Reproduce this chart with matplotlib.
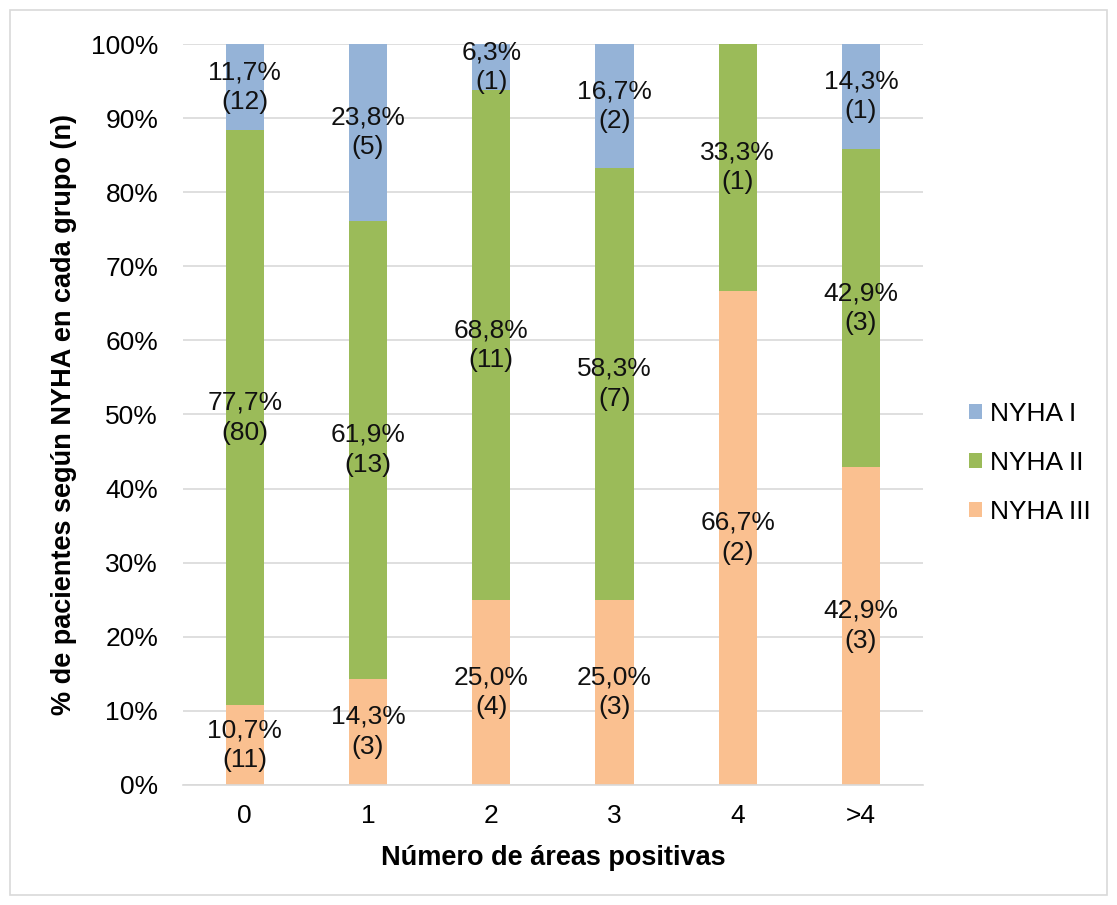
import matplotlib.pyplot as plt
import matplotlib.patches as mpatches
import numpy as np

plt.rcParams['font.family'] = ['Liberation Sans', 'DejaVu Sans']

categorias = ['0', '1', '2', '3', '4', '>4']
series = ['NYHA I', 'NYHA II', 'NYHA III']
pct_nyha1 = [11.7, 23.8, 6.3, 16.7, 0.0, 14.3]
pct_nyha2 = [77.7, 61.9, 68.8, 58.3, 33.3, 42.9]
pct_nyha3 = [10.7, 14.3, 25.0, 25.0, 66.7, 42.9]
n_nyha1 = [12, 5, 1, 2, 0, 1]
n_nyha2 = [80, 13, 11, 7, 1, 3]
n_nyha3 = [11, 3, 4, 3, 2, 3]
colores = ['#95B3D7', '#9BBB59', '#FAC090']

fig = plt.figure(figsize=(11.17, 9.05), dpi=100)
ax = fig.add_axes([0.164, 0.133, 0.662, 0.818])

# Borde del grafico
fig.patches.append(mpatches.Rectangle((0.009, 0.011), 0.982, 0.978, transform=fig.transFigure,
                                      fill=False, edgecolor='#d9d9d9', lw=1.2))

x = np.arange(len(categorias))
ancho = 0.31

# Apilar de abajo hacia arriba: III, II, I
capas = [(pct_nyha3, n_nyha3, colores[2], series[2]),
         (pct_nyha2, n_nyha2, colores[1], series[1]),
         (pct_nyha1, n_nyha1, colores[0], series[0])]
base = np.zeros(len(categorias))
handles = {}
for pct, n, color, nombre in capas:
    pct = np.array(pct)
    b = ax.bar(x, pct, ancho, bottom=base, color=color, label=nombre, zorder=2)
    handles[nombre] = b
    for i in range(len(x)):
        if n[i] > 0:
            etiqueta = f"{pct[i]:.1f}%".replace('.', ',') + f"\n({n[i]})"
            ax.text(x[i], base[i] + pct[i] / 2, etiqueta, ha='center', va='center',
                    fontsize=19, color='#111111', linespacing=1.3, zorder=3)
    base = base + pct

ax.set_xlim(-0.5, len(categorias) - 0.5)
ax.set_ylim(0, 100)
ax.set_yticks(np.arange(0, 101, 10))
ax.set_yticklabels([f"{v}%" for v in range(0, 101, 10)], fontsize=19)
ax.set_xticks(x)
ax.set_xticklabels(categorias, fontsize=19)
ax.tick_params(axis='y', length=0, pad=18)
ax.tick_params(axis='x', length=0, pad=14)
ax.grid(axis='y', color='#d9d9d9', lw=1.2, zorder=0)
ax.set_axisbelow(True)
for s in ['top', 'right', 'left']:
    ax.spines[s].set_visible(False)
ax.spines['bottom'].set_color('#d9d9d9')
ax.spines['bottom'].set_linewidth(1.2)

ax.set_xlabel('Número de áreas positivas', fontsize=19.5, fontweight='bold', labelpad=12)
ax.set_ylabel('% de pacientes según NYHA en cada grupo (n)', fontsize=19.5, fontweight='bold', labelpad=10)

ax.legend([handles[s] for s in series], series, loc='center left', bbox_to_anchor=(1.03, 0.435),
          frameon=False, fontsize=19, handlelength=0.5, handleheight=0.5, handletextpad=0.3,
          labelspacing=0.95)

fig.savefig('out.png', dpi=100)
